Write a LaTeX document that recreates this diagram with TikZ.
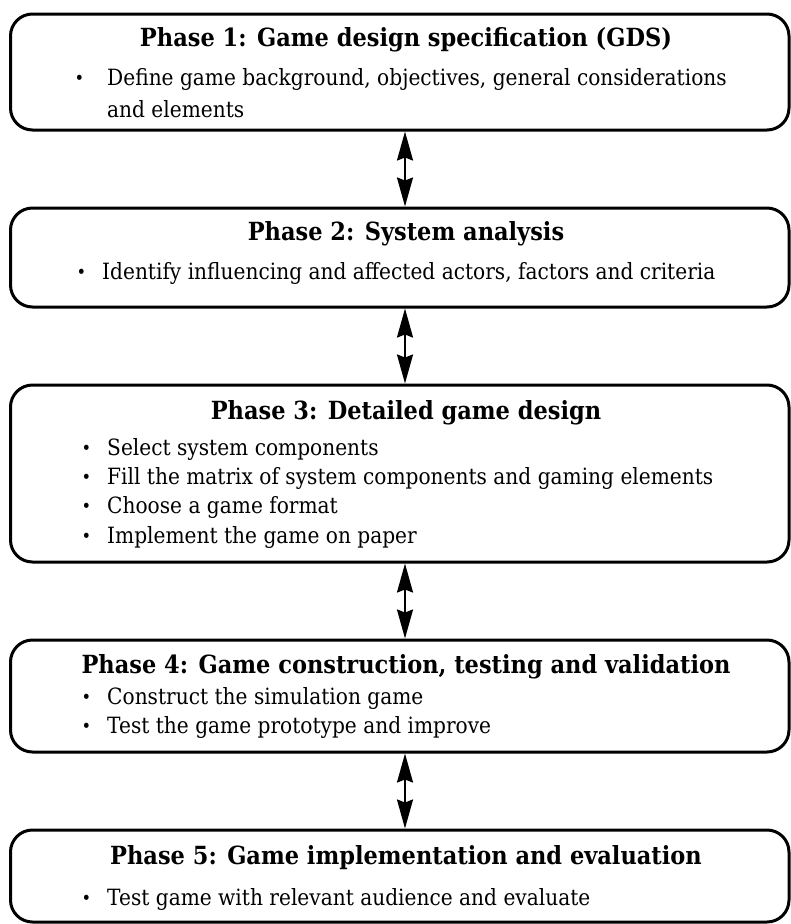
\documentclass[tikz,border=0pt]{standalone}
\usepackage{fontspec}
\setmainfont[FakeStretch=0.9]{DejaVu Serif}
\usetikzlibrary{arrows.meta}

\tikzset{
  phasebox/.style={draw, line width=3pt, rounded corners=22pt, minimum width=778.5pt, inner sep=0pt},
  phasetitle/.style={anchor=base, inner sep=0pt, font=\fontsize{25}{30}\selectfont\bfseries},
  phaseitem/.style={anchor=base west, inner sep=0pt, font=\fontsize{22.4}{27}\selectfont},
  phasearrow/.style={line width=2pt, {Stealth[length=29pt,width=16pt,inset=3pt]}-{Stealth[length=29pt,width=16pt,inset=3pt]}}
}
\newcommand{\itemdot}[1][16pt]{\makebox[0pt][r]{\raisebox{0.5pt}{\fontsize{18}{18}\selectfont •}\hspace{#1}}}

\begin{document}
\begin{tikzpicture}[x=1pt,y=1pt]
\useasboundingbox (0,0) rectangle (791,-924);
% phase boxes
\node[phasebox, minimum height=116pt] (p1) at (399.75,-72) {};
\node[phasebox, minimum height=99pt] (p2) at (399.75,-257.5) {};
\node[phasebox, minimum height=177pt] (p3) at (399.75,-473.5) {};
\node[phasebox, minimum height=112pt] (p4) at (399.75,-696) {};
\node[phasebox, minimum height=92pt] (p5) at (399.75,-876) {};
% titles
\node[phasetitle] (t1) at (406,-46) {Phase 1: Game design specification (GDS)};
\node[phasetitle] (t2) at (406,-240) {Phase 2: System analysis};
\node[phasetitle] (t3) at (406,-419) {Phase 3: Detailed game design};
\node[phasetitle] (t4) at (406,-673) {Phase 4: Game construction, testing and validation};
\node[phasetitle] (t5) at (406,-864) {Phase 5: Game implementation and evaluation};
% items
\node[phaseitem] (p1a) at (107,-85) {\itemdot[23pt]Define game background, objectives, general considerations};
\node[phaseitem] (p1b) at (107,-117) {and elements};
\node[phaseitem] (p2a) at (102,-279) {\itemdot Identify influencing and affected actors, factors and criteria};
\node[phaseitem] (p3a) at (107,-455) {\itemdot Select system components};
\node[phaseitem] (p3b) at (107,-484) {\itemdot Fill the matrix of system components and gaming elements};
\node[phaseitem] (p3c) at (107,-513) {\itemdot Choose a game format};
\node[phaseitem] (p3d) at (107,-543) {\itemdot Implement the game on paper};
\node[phaseitem] (p4a) at (107,-704) {\itemdot Construct the simulation game};
\node[phaseitem] (p4b) at (107,-733) {\itemdot Test the game prototype and improve};
\node[phaseitem] (p5a) at (107,-905) {\itemdot Test game with relevant audience and evaluate};
% connectors
\foreach \a/\b in {p1/p2,p2/p3,p3/p4,p4/p5}
  \draw[phasearrow] ([xshift=5.25pt]\a.south) -- ([xshift=5.25pt]\b.north);
\end{tikzpicture}
\end{document}
